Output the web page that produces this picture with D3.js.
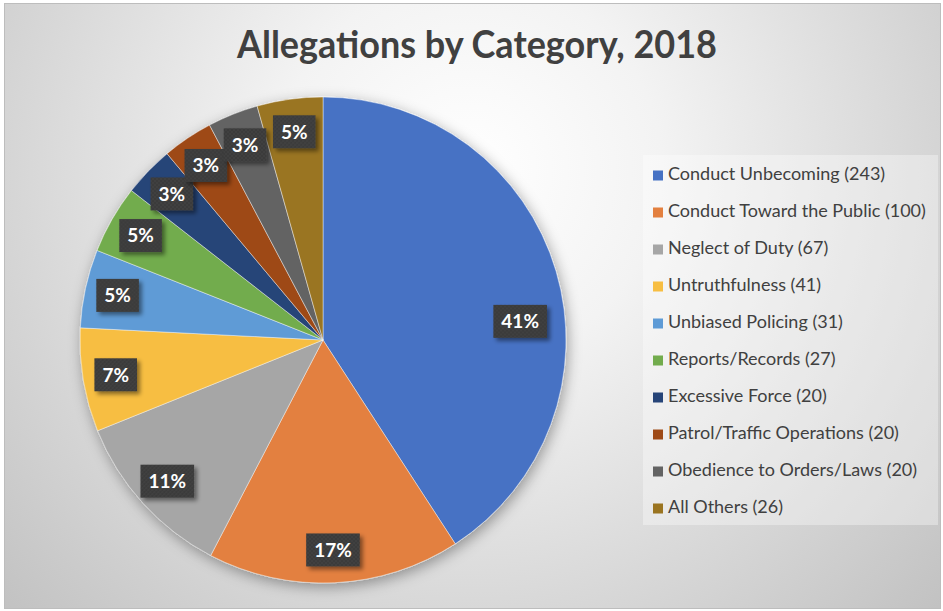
<!DOCTYPE html>
<html>
<head>
<meta charset="utf-8">
<script src="https://cdn.jsdelivr.net/npm/d3@7/dist/d3.min.js"></script>
<style>
  html, body { margin: 0; padding: 0; background: #ffffff; }
  svg { display: block; }
</style>
</head>
<body>
<svg id="chart" width="943" height="611"></svg>
<script>
// Allegation categories and counts, in drawing order (clockwise from 12 o'clock)
const categories = [
  "Conduct Unbecoming",
  "Conduct Toward the Public",
  "Neglect of Duty",
  "Untruthfulness",
  "Unbiased Policing",
  "Reports/Records",
  "Excessive Force",
  "Patrol/Traffic Operations",
  "Obedience to Orders/Laws",
  "All Others"
];
const counts = [243, 100, 67, 41, 31, 27, 20, 20, 20, 26];
// Percentage labels as printed on the slices
const percentLabels = ["41%", "17%", "11%", "7%", "5%", "5%", "3%", "3%", "3%", "5%"];
const sliceColors = [
  "#4672C4", "#E3803F", "#A6A6A6", "#F7BE42", "#5E9BD6",
  "#72AC4D", "#264478", "#9E4A17", "#636363", "#9A7420"
];
const chartTitle = "Allegations by Category, 2018";

const W = 943, H = 611;
const svg = d3.select("#chart");
const defs = svg.append("defs");

// Soft radial background
const bg = defs.append("radialGradient")
  .attr("id", "bgGrad")
  .attr("gradientUnits", "userSpaceOnUse")
  .attr("cx", 470).attr("cy", 170).attr("r", 640);
bg.append("stop").attr("offset", 0).attr("stop-color", "#ffffff");
bg.append("stop").attr("offset", 0.3).attr("stop-color", "#f3f3f3");
bg.append("stop").attr("offset", 1).attr("stop-color", "#c2c2c2");

// Shadow for the pie
const pieShadow = defs.append("filter").attr("id", "pieShadow")
  .attr("x", "-20%").attr("y", "-20%").attr("width", "140%").attr("height", "140%");
pieShadow.append("feDropShadow")
  .attr("dx", 2).attr("dy", 4).attr("stdDeviation", 7)
  .attr("flood-color", "#000").attr("flood-opacity", 0.35);

// Shadow for the data-label boxes
const boxShadow = defs.append("filter").attr("id", "boxShadow")
  .attr("x", "-30%").attr("y", "-30%").attr("width", "170%").attr("height", "170%");
boxShadow.append("feDropShadow")
  .attr("dx", 3).attr("dy", 3).attr("stdDeviation", 2)
  .attr("flood-color", "#000").attr("flood-opacity", 0.45);

// Dotted dark fill for the label boxes
const dots = defs.append("pattern").attr("id", "dots")
  .attr("patternUnits", "userSpaceOnUse").attr("width", 4).attr("height", 4);
dots.append("rect").attr("width", 4).attr("height", 4).attr("fill", "#3a3a3a");
dots.append("circle").attr("cx", 1).attr("cy", 1).attr("r", 0.7).attr("fill", "#4d4d4d");
dots.append("circle").attr("cx", 3).attr("cy", 3).attr("r", 0.7).attr("fill", "#4d4d4d");

// Chart area
svg.append("rect")
  .attr("x", 4.5).attr("y", 3.5).attr("width", 936).attr("height", 605)
  .attr("fill", "url(#bgGrad)")
  .attr("stroke", "#bdbdbd").attr("stroke-width", 1);

// Title
svg.append("text")
  .attr("x", 477).attr("y", 58)
  .attr("text-anchor", "middle")
  .attr("textLength", 480)
  .attr("lengthAdjust", "spacingAndGlyphs")
  .style("font-family", "Lato, 'Open Sans', sans-serif")
  .style("font-weight", 700)
  .style("font-size", "38px")
  .style("fill", "#404040")
  .text(chartTitle);

// Pie
const cx = 323, cy = 340, radius = 243;
const data = categories.map((c, i) => ({ name: c, value: counts[i], color: sliceColors[i], label: percentLabels[i] }));
const total = d3.sum(counts);

const pie = d3.pie().value(d => d.value).sort(null).startAngle(0).endAngle(2 * Math.PI);
const arcs = pie(data);
const arc = d3.arc().innerRadius(0).outerRadius(radius);

const pieG = svg.append("g").attr("transform", `translate(${cx},${cy})`);
pieG.append("g").attr("filter", "url(#pieShadow)")
  .selectAll("path")
  .data(arcs)
  .enter().append("path")
  .attr("d", arc)
  .attr("fill", d => d.data.color)
  .attr("stroke", "rgba(255,255,255,0.55)")
  .attr("stroke-width", 0.8);

// Data labels: boxes placed along each slice's bisector, the dominant slice label drawn nearer the horizontal
const labelRadius = radius * 0.865;
const labelG = pieG.append("g");
arcs.forEach(d => {
  let a = (d.startAngle + d.endAngle) / 2;
  let r = labelRadius;
  if (d.data.value / total > 0.35) { a = Math.PI * 0.47; r = radius * 0.815; }
  const x = r * Math.sin(a), y = -r * Math.cos(a);
  const g = labelG.append("g").attr("transform", `translate(${x},${y})`);
  const t = g.append("text")
    .attr("text-anchor", "middle")
    .attr("dy", "0.36em")
    .style("font-family", "Lato, 'Open Sans', sans-serif")
    .style("font-weight", 700)
    .style("font-size", "19px")
    .style("fill", "#ffffff")
    .text(d.data.label);
  const bw = t.node().getComputedTextLength() + 16;
  const bh = 33;
  g.insert("rect", "text")
    .attr("x", -bw / 2).attr("y", -bh / 2)
    .attr("width", bw).attr("height", bh)
    .attr("fill", "url(#dots)")
    .attr("filter", "url(#boxShadow)");
});

// Legend
const legendG = svg.append("g");
legendG.append("rect")
  .attr("x", 643).attr("y", 155).attr("width", 295).attr("height", 370)
  .attr("fill", "rgba(255,255,255,0.35)");

const legendY = d3.scalePoint().domain(categories).range([180, 513]);
const items = legendG.selectAll("g.item")
  .data(data)
  .enter().append("g").attr("class", "item")
  .attr("transform", d => `translate(653,${legendY(d.name)})`);
items.append("rect")
  .attr("x", 0).attr("y", -9.5).attr("width", 10).attr("height", 10)
  .attr("fill", d => d.color);
items.append("text")
  .attr("x", 15).attr("y", 0)
  .style("font-family", "Lato, 'Open Sans', sans-serif")
  .style("font-size", "18px")
  .style("fill", "#404040")
  .text(d => `${d.name} (${d.value})`);
</script>
</body>
</html>
